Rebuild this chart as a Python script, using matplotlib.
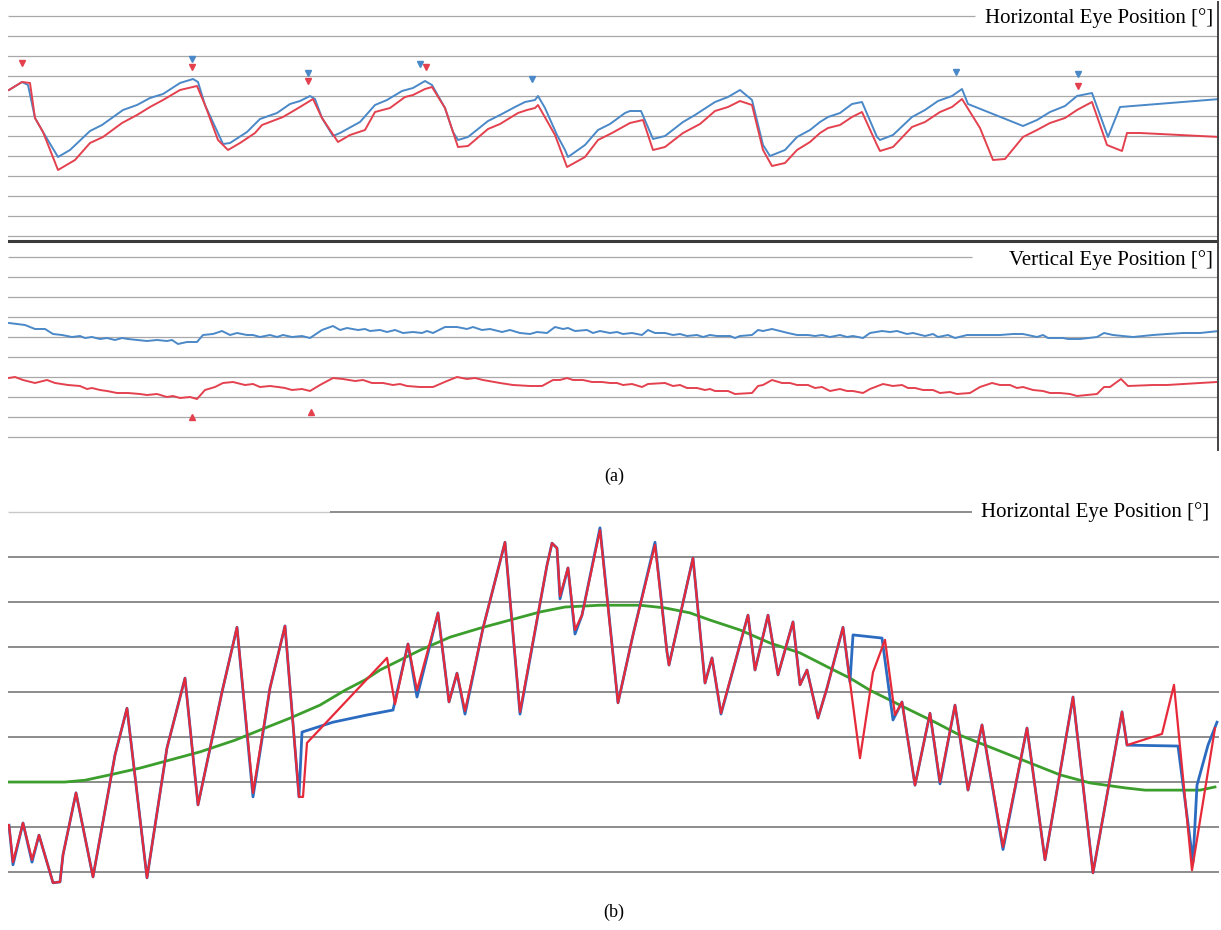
import matplotlib
matplotlib.use("Agg")
import matplotlib.pyplot as plt
from matplotlib.lines import Line2D
import numpy as np

plt.rcParams['font.family'] = ['Liberation Serif', 'DejaVu Serif']

# ---- panel (a): horizontal eye position (deg) vs sample ----
h_blue_t = [9, 22, 28, 35, 43, 58, 70, 90, 102, 123, 137, 150, 163, 180, 193, 198, 205, 223, 230, 247,
            260, 277, 290, 300, 310, 315, 322, 333, 340, 360, 375, 387, 402, 413, 425, 432, 445, 453, 458, 468,
            488, 500, 515, 525, 535, 538, 545, 557, 565, 568, 585, 598, 610, 625, 630, 641, 653, 665, 683, 695,
            715, 728, 740, 752, 763, 770, 785, 797, 810, 820, 828, 840, 852, 862, 877, 880, 893, 912, 925, 938,
            952, 962, 968, 1023, 1037, 1050, 1065, 1077, 1092, 1108, 1120, 1220]
h_blue = [11.5, 13.5, 12.75, 4.5, 1, -5.25, -3.5, 1.25, 2.75, 6.5, 7.75, 9.5, 10.5, 13.25, 14.25, 13.5, 7.75, -2, -1.75, 1,
          4.25, 5.75, 8, 8.75, 10, 9.25, 4.5, 0, 0.75, 3.5, 7.75, 9, 11.25, 12, 13.75, 12.75, 7, 1, -1, -0.25,
          3.75, 5.25, 7.25, 8.5, 9, 10, 7, 0.25, -3.5, -5.25, -2.25, 1.5, 3, 5.75, 6.25, 6.25, -0.75, 0, 3.5, 5.25,
          8.5, 9.75, 11.5, 9, -2.25, -5, -3.5, -0.25, 1.5, 3.5, 4.75, 5.75, 8, 8.5, -0.25, -1, 0.25, 4.75, 6.5, 8.75,
          10, 11.75, 8, 2.5, 4, 6, 7.5, 10, 10.75, -0.25, 7.25, 9.25]

h_red_t = [9, 22, 30, 35, 43, 58, 75, 90, 103, 122, 137, 150, 163, 180, 197, 205, 218, 228, 240, 255,
           262, 283, 300, 313, 322, 338, 350, 365, 375, 390, 405, 413, 425, 432, 445, 458, 468, 488, 500, 518,
           527, 535, 538, 555, 567, 585, 598, 612, 630, 643, 653, 665, 683, 700, 715, 728, 740, 752, 763, 772,
           785, 797, 810, 820, 828, 840, 852, 862, 877, 880, 893, 912, 925, 940, 952, 962, 980, 993, 1005, 1023,
           1037, 1050, 1065, 1077, 1092, 1107, 1122, 1127, 1140, 1180, 1220]
h_red = [11.5, 13.5, 13.25, 4.5, 1, -8.5, -6, -1.75, -0.25, 3.25, 5.25, 7.25, 9, 11.5, 12.5, 7.75, -1, -3.5, -1.75, 0.75,
         2.75, 4.75, 7.25, 9.25, 4.5, -1.5, 0.25, 1.5, 6, 7, 9.75, 10.25, 11.75, 12.25, 7, -2.75, -2.5, 1.75, 3, 5.75,
         6.5, 7, 7.75, 0.25, -7.75, -5.25, -1, 0.75, 3.25, 4, -3.5, -2.75, 0.75, 3, 6.25, 7.25, 8.75, 7.75, -3.5, -7.5,
         -6.75, -3.5, -1.5, 0.75, 2, 2.75, 4.75, 6, -2.25, -3.75, -2.75, 2.25, 3.5, 6, 7.25, 9.25, 2, -6, -5.75, -0.25,
         1.5, 3.25, 4.5, 6.5, 8.5, -2.25, -3.75, 0.75, 0.75, 0.25, -0.25]

h_blue_mark_t = [192, 308, 420, 532, 956, 1078]
h_blue_mark = [19.25, 15.75, 18, 14.25, 16, 15.5]
h_red_mark_t = [22, 192, 308, 426, 1078]
h_red_mark = [18.25, 17.25, 13.75, 17.25, 12.5]

# ---- panel (a): vertical eye position (deg) ----
v_blue_t = [9, 25, 35, 45, 53, 62, 72, 80, 85, 92, 100, 107, 115, 122, 128, 137, 147, 157, 167, 172,
            178, 187, 197, 203, 213, 222, 230, 237, 247, 253, 260, 270, 277, 283, 292, 302, 310, 322, 333, 340,
            347, 358, 365, 370, 380, 387, 395, 403, 413, 422, 427, 433, 445, 457, 467, 473, 482, 490, 502, 510,
            520, 530, 537, 547, 555, 563, 568, 575, 587, 593, 600, 610, 617, 623, 632, 642, 648, 655, 665, 673,
            680, 687, 697, 703, 710, 717, 730, 735, 740, 752, 758, 763, 772, 780, 788, 797, 808, 815, 822, 830,
            840, 847, 853, 863, 870, 882, 890, 897, 907, 913, 925, 933, 938, 948, 955, 967, 983, 1000, 1013, 1023,
            1037, 1043, 1048, 1063, 1068, 1080, 1097, 1104, 1113, 1123, 1133, 1153, 1167, 1183, 1200, 1219]
v_blue = [3.5, 3, 2, 2, 0.75, 0.5, 0, 0.25, -0.25, 0, -0.5, -0.25, -0.75, -0.25, -0.5, -0.75, -1, -0.75, -1, -0.75,
          -1.75, -1.25, -1.25, 0.5, 0.75, 1.5, 0.5, 1, 0.5, 0.5, 0, 0.5, 0, 0.5, 0, 0.25, -0.25, 1.75, 2.75, 1.75,
          2.25, 1.75, 2, 1.5, 1.75, 1.25, 1.75, 1, 1.25, 1, 1.5, 1, 2.5, 2.5, 2, 2.5, 1.75, 2, 1.25, 1.75,
          1, 0.75, 1.25, 1, 2.5, 2, 2.25, 1.5, 1.75, 1, 1.5, 1, 1.25, 0.75, 1, 0.5, 1.75, 1, 1, 0.5,
          0.75, 0.25, 0.5, 0, 0.5, 0.25, 0.25, -0.25, 0.25, 0.5, 1.75, 1.5, 2, 1.5, 1, 0.5, 0.5, 0.25, 0.5, 0,
          0.5, 0, 0.25, -0.25, 1, 1.5, 1.25, 1.5, 0.75, 1, 0.25, 0.75, 0, 0.5, -0.25, 0.5, 0.5, 0.5, 0.75, 0.75,
          0, 0.5, -0.25, -0.25, -0.5, -0.5, 0, 1, 0.5, 0.25, 0, 0.5, 0.75, 1, 1, 1.5]

v_red_t = [9, 15, 23, 35, 47, 55, 68, 80, 87, 92, 100, 107, 117, 128, 140, 147, 157, 167, 173, 180,
           190, 197, 205, 215, 223, 233, 245, 253, 260, 270, 278, 285, 292, 302, 310, 320, 333, 343, 355, 363,
           372, 383, 393, 400, 407, 420, 433, 447, 457, 467, 475, 483, 500, 513, 530, 542, 553, 560, 567, 573,
           583, 592, 602, 610, 617, 623, 632, 642, 648, 665, 673, 680, 687, 697, 705, 710, 715, 728, 735, 752,
           758, 763, 772, 782, 790, 797, 808, 815, 822, 830, 840, 847, 853, 863, 870, 883, 893, 902, 908, 915,
           923, 933, 940, 950, 957, 970, 980, 992, 1000, 1010, 1017, 1023, 1033, 1043, 1050, 1060, 1070, 1077, 1097, 1104,
           1110, 1121, 1128, 1153, 1167, 1183, 1200, 1217]
v_red = [-10.25, -10, -10.75, -11.5, -10.75, -11.5, -12, -12.25, -13, -12.75, -13.25, -13.5, -14, -14, -14.25, -14.5, -14.25, -15, -14.75, -15.25,
         -15, -15.5, -13.25, -12.5, -11.5, -11.25, -12, -11.75, -12.5, -12.25, -12.5, -12.75, -13.25, -13, -13.5, -12, -10.25, -10.5, -11, -10.75,
         -11.5, -11.5, -12, -11.75, -12.25, -12.5, -12.5, -11, -10, -10.5, -10.25, -10.75, -11.5, -12, -12.25, -12.25, -10.75, -10.75, -10.25, -10.75,
         -10.75, -11.25, -11.25, -11.5, -11.5, -12, -11.75, -12.5, -11.75, -11.5, -12.25, -12, -12.75, -12.75, -13.25, -13, -13.5, -13.5, -14.25, -14,
         -12.25, -12, -10.75, -11.5, -11.5, -12, -12, -12.75, -12.5, -13.5, -13, -13.5, -13.5, -14, -13, -11.75, -12.25, -12, -12.75, -12.75,
         -13.25, -13.25, -14, -13.75, -14.25, -14, -12.5, -11.5, -12, -12, -12.75, -12.5, -13.25, -13.5, -14, -14, -14.25, -14.75, -14.25, -12.5,
         -12.5, -10.5, -12.25, -12, -12, -11.75, -11.5, -11.25]

v_red_mark_t = [192, 311]
v_red_mark = [-20, -18.75]

# ---- panel (b): target (green) and eye traces ----
target_t = [9, 65, 85, 110, 140, 170, 200, 235, 265, 290, 320, 345, 365, 380, 400, 420, 450, 480, 510, 540,
            565, 600, 640, 665, 690, 710, 740, 770, 800, 830, 850, 870, 890, 910, 935, 960, 985, 1010, 1035, 1060,
            1090, 1125, 1145, 1200, 1215]
target = [-20, -20, -19.6, -18.4, -16.9, -15.1, -13.3, -10.7, -8, -5.8, -2.9, 0.4, 2.7, 4.9, 7.1, 9.3, 12.2, 14.2, 16, 17.8,
          18.9, 19.3, 19.3, 18.7, 17.6, 16, 13.8, 10.9, 8.7, 5.3, 3.1, 0.4, -1.8, -4, -6.7, -9.6, -11.8, -14, -16.2, -18.4,
          -20.2, -21.3, -21.8, -21.8, -21.1]

b_red_t = [9, 13, 23, 32, 39, 53, 60, 63, 76, 93, 115, 127, 147, 167, 185, 198, 222, 237, 253, 270,
           285, 299, 303, 307, 387, 395, 408, 417, 438, 449, 457, 465, 483, 505, 520, 547, 552, 557, 560, 568,
           575, 582, 600, 618, 633, 655, 667, 669, 693, 705, 712, 721, 748, 755, 768, 778, 793, 800, 807, 818,
           827, 843, 850, 860, 873, 885, 895, 902, 915, 930, 940, 955, 968, 982, 1003, 1027, 1045, 1073, 1093, 1122,
           1127, 1162, 1174, 1192, 1215]
b_red = [-29.6, -37.8, -29.1, -37.3, -31.8, -42.4, -42.2, -36.2, -22.4, -41.1, -14, -3.6, -41.3, -12.4, 3.1, -25.1, 0, 14.4, -22.4, 0.9,
         14.7, -23.3, -23.3, -11.3, 7.6, -2.7, 10.7, 0.4, 17.6, -2.2, 4.2, -4.2, 14.2, 33.3, -4.4, 28.2, 33.1, 32, 21.3, 27.6,
         13.8, 17.1, 36, -2.4, 12.7, 32.7, 8.9, 6, 29.8, 2, 7.6, -4.7, 17.1, 4.9, 17.1, 3.8, 15.6, 1.6, 4.9, -5.8,
         0.9, 14.4, 2.2, -14.7, 4.4, 11.6, -5.1, -2.2, -20.7, -4.7, -20, -2.9, -21.8, -7.3, -34.4, -8, -37.3, -1.1, -40.2, -4.4,
         -11.8, -9.3, 1.6, -39.6, -8]

b_blue_t = [9, 13, 23, 32, 39, 53, 60, 63, 76, 93, 115, 127, 147, 167, 185, 198, 222, 237, 253, 270,
            285, 299, 302, 333, 367, 393, 408, 417, 438, 449, 457, 465, 483, 505, 520, 547, 552, 557, 560, 568,
            575, 582, 600, 618, 633, 655, 667, 669, 693, 705, 712, 721, 748, 755, 768, 778, 793, 800, 807, 818,
            827, 843, 850, 853, 882, 893, 902, 915, 930, 940, 955, 968, 982, 1003, 1027, 1045, 1073, 1093, 1122, 1127,
            1178, 1193, 1197, 1208, 1217]
b_blue = [-29.6, -38.4, -29.1, -37.8, -31.8, -42.4, -42.2, -36.2, -22.4, -41.1, -14, -3.6, -41.3, -12.4, 3.1, -25.1, 0, 14.4, -23.3, 0.9,
          14.7, -23.3, -8.9, -6.7, -5.1, -4, 10.7, -1.1, 17.6, -2.2, 4.2, -4.9, 14.2, 33.3, -4.9, 28.2, 33.1, 32, 20.7, 27.6,
          12.9, 17.1, 36.5, -2.4, 12.7, 33.3, 8.9, 6, 29.8, 2, 7.6, -4.9, 17.1, 4.9, 17.1, 3.8, 15.6, 1.6, 4.9, -5.8,
          0.9, 14.4, 2.2, 12.7, 12, -6.2, -2.2, -20.7, -4.7, -20.4, -2.9, -21.8, -7.3, -35, -8, -37.3, -1.1, -40.2, -4.4, -11.8,
          -12, -37.8, -20.7, -11.8, -6.7]

BLUE_A, RED_A = '#4a88c7', '#e4414f'
BLUE_B, RED_B, GREEN = '#2b6cc0', '#e62a3a', '#3c9e2c'
GRID_A, GRID_B = '#a8a8a8', '#6e6e6e'

W, H = 1221, 930
fig = plt.figure(figsize=(W / 100, H / 100), dpi=100)
fig.patch.set_facecolor('white')


def px_axes(left, top, right, bottom):
    ax = fig.add_axes([left / W, 1 - bottom / H, (right - left) / W, (bottom - top) / H])
    ax.set_axis_off()
    ax.set_xlim(8, 1219)
    return ax


# horizontal (a)
ax1 = px_axes(8, 4, 1219, 246)
ax1.set_ylim(-27.5, 33)
for g in np.arange(-25, 30, 5):
    ax1.axhline(g, color=GRID_A, lw=0.9, zorder=1)
ax1.hlines(30, 8, 975, color=GRID_A, lw=0.9, zorder=1)
ax1.axhline(-26.25, color='#3a3a3a', lw=2.2, zorder=1)
ax1.plot(h_blue_t, h_blue, color=BLUE_A, lw=1.4, zorder=3)
ax1.plot(h_red_t, h_red, color=RED_A, lw=1.4, zorder=4)
ax1.plot(h_blue_mark_t, h_blue_mark, 'v', color=BLUE_A, ms=5, zorder=5)
ax1.plot(h_red_mark_t, h_red_mark, 'v', color=RED_A, ms=5, zorder=5)
ax1.text(1213, 29.5, 'Horizontal Eye Position [°]', ha='right', va='center', fontsize=15)

# vertical (a)
ax2 = px_axes(8, 246, 1219, 450)
ax2.set_ylim(-28.25, 22.75)
for g in np.arange(-25, 20, 5):
    ax2.axhline(g, color=GRID_A, lw=0.9, zorder=1)
ax2.hlines(20, 8, 972, color=GRID_A, lw=0.9, zorder=1)
ax2.plot(v_blue_t, v_blue, color=BLUE_A, lw=1.4, zorder=3)
ax2.plot(v_red_t, v_red, color=RED_A, lw=1.4, zorder=4)
ax2.plot(v_red_mark_t, v_red_mark, '^', color=RED_A, ms=5, zorder=5)
ax2.text(1213, 19.3, 'Vertical Eye Position [°]', ha='right', va='center', fontsize=15)

# right border of panel (a)
fig.add_artist(Line2D([1218 / W, 1218 / W], [1 - 2 / H, 1 - 450 / H], color='#444444', lw=1.4))

# panel (b)
ax3 = px_axes(8, 495, 1219, 890)
ax3.set_ylim(-44, 43.8)
for g in np.arange(-40, 40, 10):
    ax3.axhline(g, color=GRID_B, lw=1.1, zorder=1)
ax3.hlines(40, 8, 330, color='#c8c8c8', lw=1.0, zorder=1)
ax3.hlines(40, 330, 972, color=GRID_B, lw=1.1, zorder=1)
ax3.plot(target_t, target, color=GREEN, lw=2.0, zorder=2)
ax3.plot(b_blue_t, b_blue, color=BLUE_B, lw=2.0, zorder=3)
ax3.plot(b_red_t, b_red, color=RED_B, lw=1.6, zorder=4)
ax3.text(1209, 40, 'Horizontal Eye Position [°]', ha='right', va='center', fontsize=15)

fig.text(614 / W, 1 - 476 / H, '(a)', ha='center', va='center', fontsize=13)
fig.text(614 / W, 1 - 912 / H, '(b)', ha='center', va='center', fontsize=13)

fig.savefig('out.png', dpi=100, facecolor='white')
